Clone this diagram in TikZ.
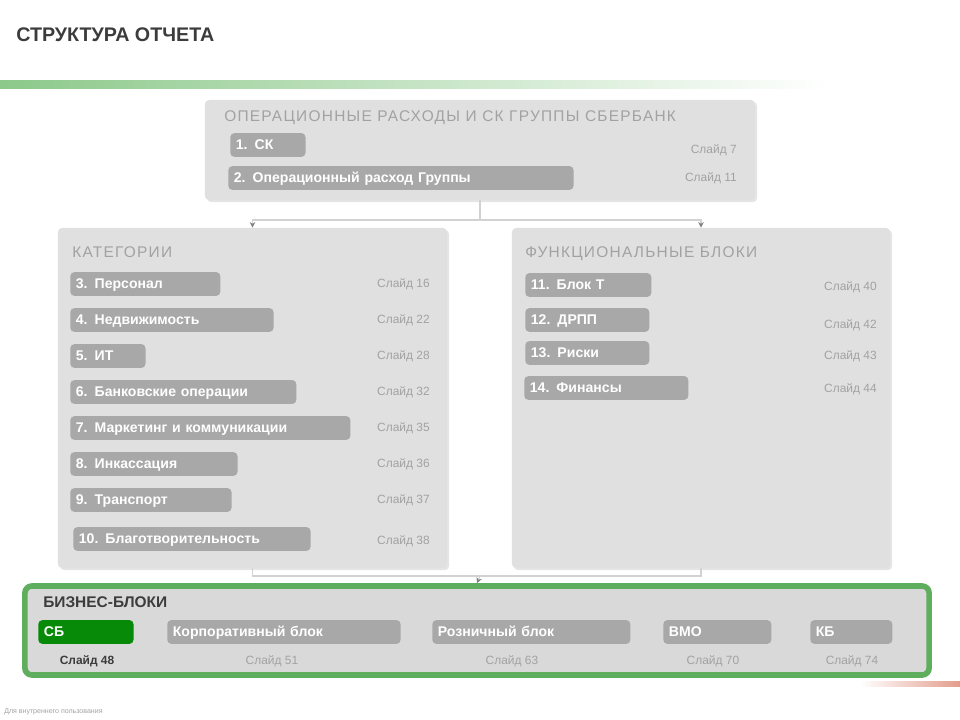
\documentclass[tikz,border=0pt]{standalone}
\usepackage{fontspec}
\setmainfont{Liberation Sans}
\newfontfamily\hdrfont[LetterSpace=8]{Liberation Sans}
\usetikzlibrary{arrows.meta,shadows}
\definecolor{panelgray}{HTML}{E0E0E0}
\definecolor{bizgray}{HTML}{D9D9D9}
\definecolor{itemgray}{HTML}{A8A8A8}
\definecolor{softgray}{HTML}{A2A2A2}
\definecolor{darktext}{HTML}{3C3C3C}
\definecolor{bizgreen}{HTML}{5EAE5E}
\definecolor{sbgreen}{HTML}{078A07}
\definecolor{stripegreen}{HTML}{8CC98A}
\definecolor{stripered}{HTML}{E39C8C}

\begin{document}
\begin{tikzpicture}[x=0.025cm,y=-0.025cm,
  panel/.style={fill=panelgray, rounded corners=3pt,
    drop shadow={opacity=0.2,shadow xshift=1.5pt,shadow yshift=-1.5pt}},
  hdr/.style={anchor=west, text=softgray, inner sep=0pt,
    font=\hdrfont\fontsize{11}{13}\selectfont},
  catbox/.style={anchor=west, fill=itemgray, rounded corners=3pt, text=white,
    font=\bfseries\fontsize{10}{12}\selectfont,
    inner xsep=4pt, inner ysep=0pt, text width=#1, align=left,
    text height=11.5pt, text depth=5.5pt},
  slide/.style={text=softgray, inner sep=0pt, font=\fontsize{8.5}{10}\selectfont},
  conn/.style={draw=gray!35, line width=0.8pt},
  tip/.style={-{Stealth[length=4pt,width=4pt,color=gray]}}]
\fill[white] (0,0) rectangle (960,720);
\useasboundingbox (0,0) rectangle (960,720);

\node[anchor=west, text=darktext, inner sep=0pt,
  font=\bfseries\fontsize{14}{16}\selectfont] (title) at (16,35) {СТРУКТУРА ОТЧЕТА};
\shade[left color=stripegreen, right color=white] (0,81) rectangle (830,89);

% operating expenses
\node[panel, minimum width=13.75cm, minimum height=2.5cm] (ops) at (480,150) {};
\node[hdr] (opsHead) at (224,118) {ОПЕРАЦИОННЫЕ РАСХОДЫ И СК ГРУППЫ СБЕРБАНК};
\node[catbox=1.60cm] (sk) at (230,145) {1. СК};
\node[catbox=8.35cm] (opex) at (228,178) {2. Операционный расход Группы};
\node[slide, anchor=east] (sl7) at (737,150) {Слайд 7};
\node[slide, anchor=east] (sl11) at (737,178) {Слайд 11};

% categories
\node[panel, minimum width=9.725cm, minimum height=8.5cm] (cat) at (252.5,398) {};
\node[hdr] (catHead) at (72,252) {КАТЕГОРИИ};
\node[catbox=3.47cm] (staff) at (70,284) {3. Персонал};
\node[catbox=4.80cm] (estate) at (70,320) {4. Недвижимость};
\node[catbox=1.60cm] (it) at (70,356) {5. ИТ};
\node[catbox=5.37cm] (bankops) at (70,392) {6. Банковские операции};
\node[catbox=6.72cm] (mkt) at (70,428) {7. Маркетинг и коммуникации};
\node[catbox=3.90cm] (cash) at (70,464) {8. Инкассация};
\node[catbox=3.75cm] (trans) at (70,500) {9. Транспорт};
\node[catbox=5.65cm] (charity) at (73,539) {10. Благотворительность};
\node[slide, anchor=east] (sl16) at (430,284) {Слайд 16};
\node[slide, anchor=east] (sl22) at (430,320) {Слайд 22};
\node[slide, anchor=east] (sl28) at (430,356) {Слайд 28};
\node[slide, anchor=east] (sl32) at (430,392) {Слайд 32};
\node[slide, anchor=east] (sl35) at (430,428) {Слайд 35};
\node[slide, anchor=east] (sl36) at (430,464) {Слайд 36};
\node[slide, anchor=east] (sl37) at (430,500) {Слайд 37};
\node[slide, anchor=east] (sl38) at (430,541) {Слайд 38};

% functional blocks
\node[panel, minimum width=9.45cm, minimum height=8.5cm] (func) at (701,398) {};
\node[hdr] (funcHead) at (525,254) {ФУНКЦИОНАЛЬНЫЕ БЛОКИ};
\node[catbox=2.87cm] (blockT) at (525,285) {11. Блок Т};
\node[catbox=2.82cm] (drpp) at (525,320) {12. ДРПП};
\node[catbox=2.82cm] (risk) at (525,353) {13. Риски};
\node[catbox=3.82cm] (fin) at (524,388) {14. Финансы};
\node[slide, anchor=east] (sl40) at (877,287) {Слайд 40};
\node[slide, anchor=east] (sl42) at (877,325) {Слайд 42};
\node[slide, anchor=east] (sl43) at (877,356) {Слайд 43};
\node[slide, anchor=east] (sl44) at (877,389) {Слайд 44};

% business blocks
\node[fill=bizgray, draw=bizgreen, line width=4pt, rounded corners=5pt,
  minimum width=22.6cm, minimum height=2.225cm] (biz) at (477,630.5) {};
\node[anchor=west, text=darktext, inner sep=0pt,
  font=\bfseries\fontsize{11}{13}\selectfont] (bizHead) at (43,602) {БИЗНЕС-БЛОКИ};
\node[catbox=2.10cm, fill=sbgreen] (sb) at (38,632) {СБ};
\node[catbox=5.55cm] (corp) at (167,632) {Корпоративный блок};
\node[catbox=4.67cm] (retail) at (432,632) {Розничный блок};
\node[catbox=2.42cm] (vmo) at (663,632) {ВМО};
\node[catbox=1.77cm] (kb) at (810,632) {КБ};
\node[slide, text=darktext, font=\bfseries\fontsize{8.5}{10}\selectfont] (sl48) at (87,661) {Слайд 48};
\node[slide] (sl51) at (272,661) {Слайд 51};
\node[slide] (sl63) at (512,661) {Слайд 63};
\node[slide] (sl70) at (713,661) {Слайд 70};
\node[slide] (sl74) at (852,661) {Слайд 74};

% connectors
\coordinate (jtop) at (480,220);
\coordinate (jbot) at (480,576);
\draw[conn] (ops.south) -- (jtop);
\draw[conn, tip] (jtop) -| (cat.north);
\draw[conn, tip] (jtop) -| (func.north);
\draw[conn] (cat.south) |- (jbot);
\draw[conn] (func.south) |- (jbot);
\draw[conn, tip] (jbot) -- (biz.north);

\shade[left color=white, right color=stripered] (860,681) rectangle (960,686);
\node[anchor=west, text=softgray, inner sep=0pt,
  font=\fontsize{5}{6}\selectfont] (footer) at (4,712) {Для внутреннего пользования};
\end{tikzpicture}
\end{document}
